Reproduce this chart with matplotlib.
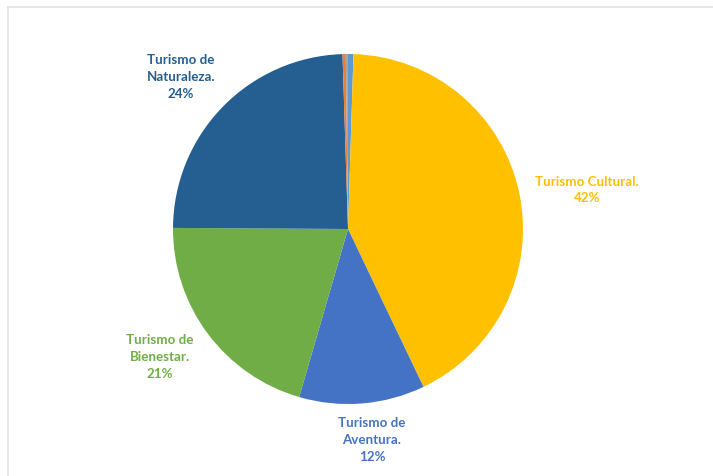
import matplotlib
matplotlib.use('Agg')
import matplotlib.pyplot as plt
from matplotlib.lines import Line2D

# data (clockwise from 12 o'clock)
segments = ['Otro 3', 'Turismo Cultural', 'Turismo de Aventura',
            'Turismo de Bienestar', 'Turismo de Naturaleza', 'Otro 1', 'Otro 2']
shares = [0.5, 42.4, 11.6, 20.6, 24.4, 0.3, 0.2]
colors = ['#5B9BD5', '#FFC000', '#4472C4', '#70AD47', '#255E91', '#ED7D31', '#A5A5A5']

label_texts = ['Turismo Cultural.\n42%',
               'Turismo de\nAventura.\n12%',
               'Turismo de\nBienestar.\n21%',
               'Turismo de\nNaturaleza.\n24%']
label_colors = ['#FFC000', '#4472C4', '#70AD47', '#255E91']
label_pos = [(1.366, 0.223), (0.137, -1.206), (-1.074, -0.731), (-0.954, 0.869)]

W, H = 713, 476
fig = plt.figure(figsize=(W / 100, H / 100), dpi=100)
fig.patch.set_facecolor('white')

cx, cy, r = 348, 229, 175
ax = fig.add_axes([(cx - r) / W, (H - cy - r) / H, 2 * r / W, 2 * r / H])
ax.pie(shares, colors=colors, startangle=90, counterclock=False,
       radius=1, wedgeprops=dict(linewidth=0))
ax.set_xlim(-1, 1)
ax.set_ylim(-1, 1)
ax.set_axis_off()

for txt, col, (x, y) in zip(label_texts, label_colors, label_pos):
    ax.text(x, y, txt, color=col, ha='center', va='center', fontsize=9.6,
            fontweight='bold', family=['Lato', 'DejaVu Sans'],
            linespacing=1.48, clip_on=False)

# chart area frame (only top and left visible)
fig.add_artist(Line2D([8 / W, 1], [1 - 7 / H, 1 - 7 / H], color='#E2E2E2', lw=1.2))
fig.add_artist(Line2D([8 / W, 8 / W], [0, 1 - 7 / H], color='#E2E2E2', lw=1.2))

fig.savefig('out.png', dpi=100, facecolor='white')
